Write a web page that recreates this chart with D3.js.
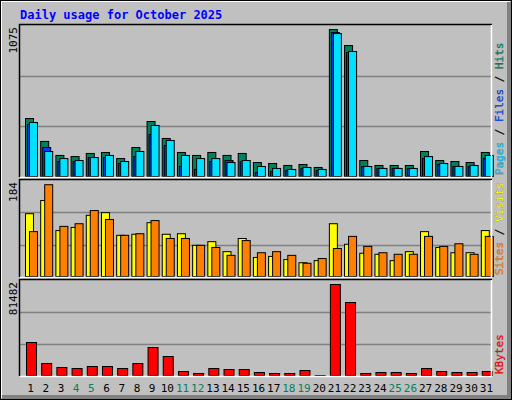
<!DOCTYPE html>
<html><head><meta charset="utf-8">
<script src="https://cdn.jsdelivr.net/npm/d3@7"></script>
<style>body{margin:0;background:#fff}svg{display:block}text{font-family:"DejaVu Sans Mono",monospace}</style>
</head><body>
<script>
const days = d3.range(1, 32);
const weekends = [4, 5, 11, 12, 18, 19, 25, 26];
const hits = [417,255,156,148,170,177,134,212,396,276,177,156,177,156,170,106,99,85,92,71,1046,933,120,85,85,85,184,120,113,106,177];
const files = [375,212,113,113,141,141,99,148,304,226,78,57,113,120,113,35,42,49,64,49,1025,884,78,64,64,64,134,92,78,78,134];
const pages = [389,184,134,120,141,156,113,184,368,262,156,134,134,106,120,78,64,57,71,57,1018,891,78,64,64,64,148,99,78,85,156];
const sites = [121,146,89,95,118,123,80,82,104,82,83,61,68,49,74,38,40,34,28,32,102,63,46,44,32,49,87,57,47,47,89];
const visits = [87,176,97,102,127,110,80,83,108,74,74,61,57,42,70,47,49,42,27,36,55,78,59,47,44,44,78,59,64,44,78];
const kbytes = [28860,11030,7640,6790,8490,8490,6790,11030,24615,16975,4245,2550,6790,5940,5940,3400,2550,2550,5090,850,78090,62810,2550,3400,3400,2550,6790,4245,3400,3400,4245];
const maxLabels = ["1075", "184", "81482"];

const W = 512, H = 400, L = 20, R = 491;
const svg = d3.select("body").append("svg").attr("width", W).attr("height", H);

// frame
svg.append("rect").attr("width", W).attr("height", H).attr("fill", "#c0c0c0");
svg.append("path").attr("d", `M1,${H-2}V1H${W-2}`).attr("fill", "none").attr("stroke", "#fff").attr("stroke-width", 2);
svg.append("path").attr("d", `M2,${H-3}H${W-3}V2`).attr("fill", "none").attr("stroke", "#808080").attr("stroke-width", 4);
svg.append("rect").attr("x", 0.5).attr("y", 0.5).attr("width", W-1).attr("height", H-1).attr("fill", "none").attr("stroke", "#000");

svg.append("text").attr("x", 20).attr("y", 19).attr("fill", "#0000ff")
  .attr("font-size", 12).attr("font-weight", "bold").text("Daily usage for October 2025");

const x = d3.scaleBand().domain(days).range([L, R]);

const panels = [
  {top: 25, bottom: 177, max: 1075, label: maxLabels[0],
   series: [{v: hits, c: "#00805c", o: 5, w: 8}, {v: files, c: "#0040ff", o: 7, w: 8}, {v: pages, c: "#00e0ff", o: 9, w: 8}],
   legend: [["Pages", "#00c0ff"], [" / ", "#000"], ["Files", "#0040ff"], [" / ", "#000"], ["Hits", "#00805c"]]},
  {top: 180, bottom: 277, max: 184, label: maxLabels[1],
   series: [{v: sites, c: "#ffff00", o: 5, w: 8}, {v: visits, c: "#ff8000", o: 9, w: 8}],
   legend: [["Sites", "#ff8000"], [" / ", "#000"], ["Visits", "#ffff00"]]},
  {top: 280, bottom: 376, max: 81482, label: maxLabels[2],
   series: [{v: kbytes, c: "#ff0000", o: 6, w: 10}],
   legend: [["KBytes", "#ff0000"]]}
];

panels.forEach(p => {
  const y = d3.scaleLinear().domain([0, p.max]).range([p.bottom, p.top]);
  const g = svg.append("g");
  [1, 2].forEach(k => {
    const gy = Math.round(p.bottom - (p.bottom - p.top) * k / 3) + 0.5;
    g.append("line").attr("x1", L).attr("x2", R).attr("y1", gy).attr("y2", gy).attr("stroke", "#808080").attr("stroke-width", 1.5);
  });
  p.series.forEach(s => {
    g.selectAll(null).data(days).join("rect")
      .attr("x", d => x(d) + s.o + 0.5)
      .attr("y", (d, i) => y(s.v[i]) + 0.5)
      .attr("width", s.w)
      .attr("height", (d, i) => Math.max(0, p.bottom - y(s.v[i]) - 1))
      .attr("fill", s.c).attr("stroke", "#000");
  });
  g.append("path").attr("d", `M${L-0.5},${p.bottom}V${p.top-0.5}H${R+1}`).attr("fill", "none").attr("stroke", "#000").attr("stroke-width", 1.5);
  g.append("path").attr("d", `M${L},${p.bottom+0.5}H${R+0.5}V${p.top}`).attr("fill", "none").attr("stroke", "#fff").attr("stroke-width", 1.5);
  svg.append("text").attr("transform", `translate(17,${p.top + 2}) rotate(-90)`)
    .attr("text-anchor", "end").attr("font-size", 11).attr("fill", "#000").text(p.label);
  const t = svg.append("text").attr("transform", `translate(503,${p.bottom - 2}) rotate(-90)`)
    .attr("font-size", 11).style("paint-order", "stroke").attr("stroke", "#666").attr("stroke-width", 0.4);
  p.legend.forEach(([s, c]) => t.append("tspan").attr("fill", c).text(s));
});

svg.append("g").selectAll("text").data(days).join("text")
  .attr("x", d => x(d) + x.bandwidth() / 2 + 3)
  .attr("y", 392).attr("text-anchor", "middle").attr("font-size", 11)
  .attr("fill", d => weekends.includes(d) ? "#00805c" : "#000").text(d => d);
</script>
</body></html>
